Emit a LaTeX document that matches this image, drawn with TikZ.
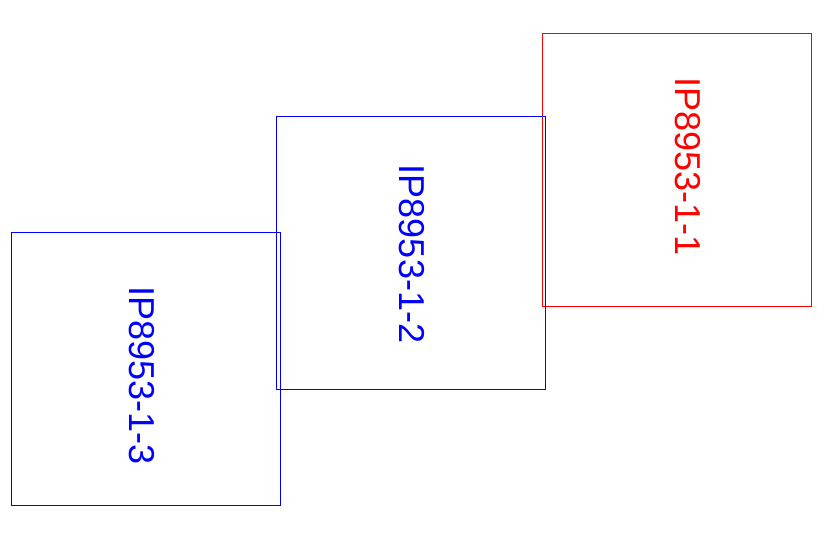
\documentclass[tikz,border=0pt]{standalone}
\usepackage{fontspec}
\setmainfont{Liberation Sans}
\usepackage{xcolor}
\usetikzlibrary{positioning}
\tikzset{
	tile/.style={draw=#1, line width=0.6pt, minimum width=269pt, minimum height=273pt, inner sep=0pt},
	tilename/.style={text=#1, rotate=-90, inner sep=0pt, font=\fontsize{36}{40}\selectfont}
}

\begin{document}
\begin{tikzpicture}[x=1pt, y=-1pt]
        \useasboundingbox (0, 0) rectangle (833, 541);

        % Tiles
        \node[tile=red] (tile1) at (676.5, 169.5) {};
        \node[tile=blue] (tile2) at (410.5, 252.5) {};
        \node[tile=blue] (tile3) at (146, 368.5) {};

        % Labels
        \node[tilename=red] (name1) at (687.5, 166.5) {IP8953-1-1};
        \node[tilename=blue] (name2) at (412, 254) {IP8953-1-2};
        \node[tilename=blue] (name3) at (141.5, 375.5) {IP8953-1-3};

\end{tikzpicture}
\end{document}
